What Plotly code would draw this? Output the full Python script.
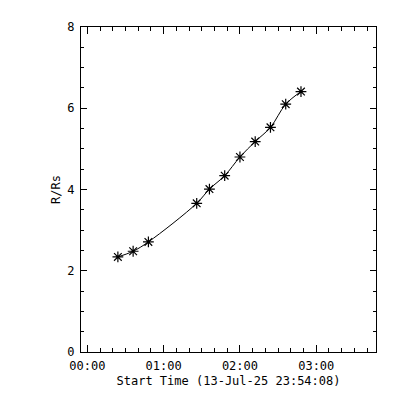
import plotly.graph_objects as go

times = ["2025-07-14 00:24", "2025-07-14 00:36", "2025-07-14 00:48",
         "2025-07-14 01:26", "2025-07-14 01:36", "2025-07-14 01:48",
         "2025-07-14 02:00", "2025-07-14 02:12", "2025-07-14 02:24",
         "2025-07-14 02:36", "2025-07-14 02:48"]
heights = [2.34, 2.48, 2.71, 3.66, 4.01, 4.34, 4.80, 5.18, 5.53, 6.10, 6.41]

x_range = ["2025-07-13 23:55:00", "2025-07-14 03:47:00"]
y_ticks = [0, 2, 4, 6, 8]
x_title = "Start Time (13-Jul-25 23:54:08)"
y_title = "R/Rs"

font = dict(family="DejaVu Sans Mono", size=12, color="black")

fig = go.Figure()
fig.add_trace(go.Scatter(
    x=times, y=heights, mode="lines+markers",
    line=dict(color="black", width=1, shape="spline", smoothing=1.0),
    marker=dict(symbol="asterisk-open", size=9, color="black",
                line=dict(color="black", width=1.2)),
    showlegend=False,
))

fig.update_layout(
    width=392, height=392,
    margin=dict(l=73, r=24, t=16, b=48),
    paper_bgcolor="white", plot_bgcolor="white",
    font=font,
    xaxis=dict(
        type="date", range=x_range, tickformat="%H:%M",
        dtick=3600000, tick0="2025-07-14 00:00",
        ticks="inside", ticklen=7, tickwidth=1, tickcolor="black",
        showline=True, linecolor="black", linewidth=1, mirror="ticks",
        showgrid=False, zeroline=False,
        minor=dict(dtick=600000, tick0="2025-07-14 00:00", ticks="inside",
                   ticklen=4, tickcolor="black", showgrid=False),
        ticklabelstandoff=3,
        title=dict(text=x_title, standoff=4, font=font),
        tickfont=font,
    ),
    yaxis=dict(
        range=[0, 8], tickvals=y_ticks,
        ticks="inside", ticklen=6, tickwidth=1, tickcolor="black",
        showline=True, linecolor="black", linewidth=1, mirror="ticks",
        showgrid=False, zeroline=False,
        minor=dict(dtick=0.5, ticks="inside", ticklen=3, tickcolor="black",
                   showgrid=False),
        ticklabelstandoff=3,
        title=dict(text=y_title, standoff=4, font=font),
        tickfont=font,
    ),
)

fig.write_html("out.html")
